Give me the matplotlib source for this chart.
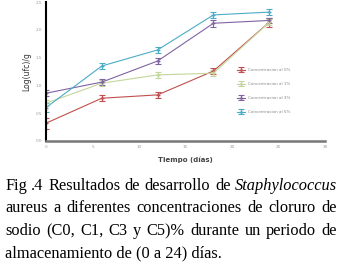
import matplotlib
matplotlib.use("Agg")
import matplotlib.pyplot as plt
import numpy as np

dias = [0, 6, 12, 18, 24]
c0 = [0.32, 0.77, 0.83, 1.26, 2.14]
c1 = [0.68, 1.04, 1.19, 1.22, 2.14]
c3 = [0.86, 1.06, 1.44, 2.12, 2.17]
c5 = [0.60, 1.35, 1.64, 2.27, 2.32]
err0 = [0.10, 0.05, 0.05, 0.05, 0.08]
err1 = [0.05, 0.05, 0.05, 0.05, 0.05]
err3 = [0.05, 0.05, 0.05, 0.06, 0.05]
err5 = [0.08, 0.05, 0.05, 0.05, 0.05]
etiquetas = ["Concentracion al 0%", "Concentracion al 1%",
             "Concentracion al 3%", "Concentracion al 5%"]
colores = ["#c0504d", "#c3d69b", "#8064a2", "#4bacc6"]

caption = [
    [("Fig", False), (".4", False), ("Resultados", False), ("de", False),
     ("desarrollo", False), ("de", False), ("Staphylococcus", True)],
    [("aureus", False), ("a", False), ("diferentes", False), ("concentraciones", False),
     ("de", False), ("cloruro", False), ("de", False)],
    [("sodio", False), ("(C0,", False), ("C1,", False), ("C3", False), ("y", False),
     ("C5)%", False), ("durante", False), ("un", False), ("periodo", False), ("de", False)],
    [("almacenamiento de (0 a 24) días.", False)],
]

fig = plt.figure(figsize=(3.43, 2.66), dpi=100)
ax = fig.add_axes([0.134, 0.47, 0.814, 0.522])

series = [c0, c1, c3, c5]
errores = [err0, err1, err3, err5]
for s, e, col, lab in zip(series, errores, colores, etiquetas):
    ax.errorbar(dias, s, yerr=e, color=col, lw=0.8, marker="+", ms=3,
                capsize=2.5, elinewidth=0.8, capthick=0.8, label=lab)

ax.set_xlim(0, 30)
ax.set_ylim(0, 2.5)
ax.set_xticks(np.arange(0, 31, 5))
ax.set_yticks(np.arange(0, 2.51, 0.5))
ax.set_yticklabels(["0.0", "0.5", "1.0", "1.5", "2.0", "2.5"])
ax.tick_params(labelsize=3, colors="#999999", length=0, pad=3)
for side in ["top", "right"]:
    ax.spines[side].set_visible(False)
ax.spines["left"].set_color("black")
ax.spines["left"].set_linewidth(1.5)
ax.spines["bottom"].set_color("#777777")
ax.spines["bottom"].set_linewidth(1.8)
ax.set_ylabel("Log(ufc)/g", fontsize=5.5, color="#333333", labelpad=3)
ax.set_xlabel("Tiempo (días)", fontsize=5, color="#444444", labelpad=5, fontweight="bold")
ax.legend(loc="center left", bbox_to_anchor=(0.67, 0.36), fontsize=3, frameon=False,
          labelspacing=2.4, handlelength=2.0, labelcolor="#888888")

# caption, justified line by line
fig.canvas.draw()
r = fig.canvas.get_renderer()
x0, x1 = 5 / 343, 337 / 343
ys = [186, 208, 231, 253]
for line, yp in zip(caption, ys):
    y = 1 - yp / 266
    txts = []
    for w, it in line:
        t = fig.text(0, y, w, fontsize=11.8, family="Liberation Serif",
                     style="italic" if it else "normal", va="center", ha="left")
        txts.append(t)
    widths = [t.get_window_extent(r).width / fig.bbox.width for t in txts]
    if len(txts) > 1 and yp != 253:
        gap = (x1 - x0 - sum(widths)) / (len(txts) - 1)
    else:
        gap = 0
    x = x0
    for t, wd in zip(txts, widths):
        t.set_x(x)
        x += wd + gap

fig.savefig("out.png", dpi=100)
